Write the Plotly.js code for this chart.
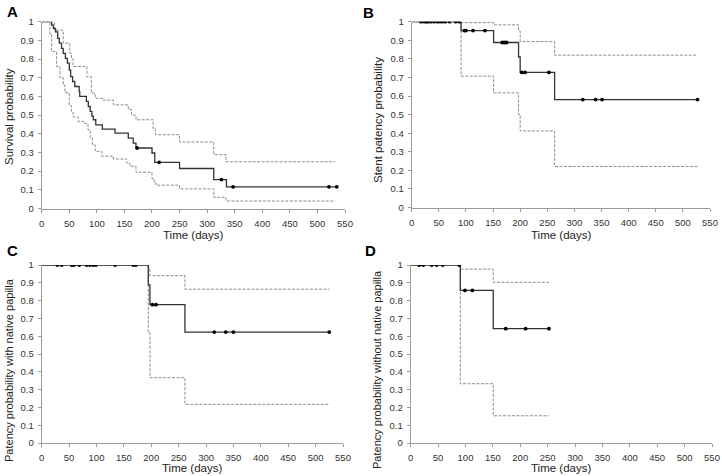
<!DOCTYPE html>
<html>
<head>
<meta charset="utf-8">
<script src="https://cdn.plot.ly/plotly-3.0.1.min.js"></script>
<style>html,body{margin:0;padding:0;background:#fff}#chart{width:722px;height:476px}</style>
</head>
<body>
<div id="chart"></div>
<script>
// ---- Panel A: overall survival ----
const aTime  = [0, 18, 21, 25, 29, 32, 36, 39, 43, 46.5, 50, 52.5, 56, 60, 68, 69, 81, 84.5, 88, 91, 93.6, 98, 110, 133, 157, 166, 171, 200, 205, 250, 312, 335, 535];
const aSurv  = [1, 0.982, 0.964, 0.946, 0.911, 0.885, 0.857, 0.83, 0.804, 0.778, 0.741, 0.706, 0.68, 0.653, 0.626, 0.6, 0.573, 0.546, 0.52, 0.494, 0.475, 0.448, 0.425, 0.404, 0.377, 0.35, 0.324, 0.297, 0.247, 0.214, 0.155, 0.116, 0.116];
const aUpT   = [0, 23, 39, 51, 54, 57, 82, 90, 97, 110, 130, 157, 163, 171, 202, 206, 250, 312, 334, 532];
const aUp    = [1, 0.955, 0.885, 0.83, 0.80, 0.76, 0.705, 0.618, 0.59, 0.58, 0.555, 0.53, 0.50, 0.475, 0.43, 0.395, 0.356, 0.288, 0.25, 0.25];
const aLoT   = [0, 15, 18, 27, 33, 39, 42, 50, 54, 57, 66, 78, 84, 88, 92, 97, 109, 130, 154, 160, 171, 200, 204, 207, 250, 312, 334, 532];
const aLo    = [1, 0.93, 0.84, 0.76, 0.70, 0.66, 0.62, 0.55, 0.52, 0.49, 0.466, 0.455, 0.42, 0.38, 0.34, 0.306, 0.28, 0.265, 0.244, 0.226, 0.194, 0.16, 0.14, 0.125, 0.105, 0.06, 0.04, 0.04];
const aCens  = [173, 213, 326, 347, 521, 535];

// ---- Panel B: stent patency ----
const bTime  = [0, 91, 151, 197, 200, 263.5, 527];
const bSurv  = [1, 0.952, 0.888, 0.81, 0.727, 0.581, 0.581];
const bUp    = [1, 0.995, 0.983, 0.95, 0.893, 0.82, 0.82];
const bLo    = [1, 0.707, 0.617, 0.50, 0.412, 0.221, 0.221];
const bCens  = [17, 23, 27.5, 29.5, 35, 41, 47, 52, 57, 62.5, 70, 81, 87.5, 97, 100, 113, 135, 167, 171, 175, 203, 209, 253, 315.5, 339, 351, 527];

// ---- Panel C: patency with native papilla ----
const cTime  = [0, 194.6, 197.6, 261.5, 525];
const cSurv  = [1, 0.888, 0.777, 0.623, 0.623];
const cUp    = [1, 0.983, 0.94, 0.864, 0.864];
const cLo    = [1, 0.62, 0.367, 0.217, 0.217];
const cCens  = [28.5, 36.5, 54.7, 59, 68.6, 82, 88, 94, 99, 134, 167, 172, 202, 208.6, 315, 336, 350, 525];

// ---- Panel D: patency without native papilla ----
const dTime  = [0, 90.5, 150.7, 252.3];
const dSurv  = [1, 0.857, 0.642, 0.642];
const dUp    = [1, 0.977, 0.903, 0.903];
const dLo    = [1, 0.333, 0.153, 0.153];
const dCens  = [15.7, 23, 38.3, 47.4, 58.4, 88.7, 99, 112.5, 173.5, 209.8, 252.3];

const panelLetters = ['A', 'B', 'C', 'D'];
const yTitles = ['Survival probability', 'Stent patency probability',
                 'Patency probability with native papilla', 'Patency probability without native papilla'];
const xTitle = 'Time (days)';

const FONT = 'Liberation Sans, Arial, sans-serif';
const W = 722, H = 476;
const px = v => v / W;
const py = v => 1 - v / H;

function stepAt(times, surv, t) {
  let v = surv[0];
  for (let i = 0; i < times.length; i++) if (times[i] <= t) v = surv[i];
  return v;
}

const traces = [];
function panel(k, tMain, sMain, tUp, up, tLo, lo, cens) {
  const xa = k === 1 ? 'x' : 'x' + k, ya = k === 1 ? 'y' : 'y' + k;
  const dashStyle = {color: '#8c8c8c', width: 1, dash: '3px,1.5px', shape: 'hv'};
  traces.push({x: tUp, y: up, xaxis: xa, yaxis: ya, mode: 'lines', line: dashStyle, hoverinfo: 'skip'});
  traces.push({x: tLo, y: lo, xaxis: xa, yaxis: ya, mode: 'lines', line: dashStyle, hoverinfo: 'skip'});
  traces.push({x: tMain, y: sMain, xaxis: xa, yaxis: ya, mode: 'lines',
               line: {color: '#333', width: 1.3, shape: 'hv'}});
  traces.push({x: cens, y: cens.map(t => stepAt(tMain, sMain, t)), xaxis: xa, yaxis: ya,
               mode: 'markers', marker: {color: '#000', size: 3.8, symbol: 'circle'}});
}
panel(1, aTime, aSurv, aUpT, aUp, aLoT, aLo, aCens);
panel(2, bTime, bSurv, bTime, bUp, bTime, bLo, bCens);
panel(3, cTime, cSurv, cTime, cUp, cTime, cLo, cCens);
panel(4, dTime, dSurv, dTime, dUp, dTime, dLo, dCens);

function xax(d0, d1, anchor) {
  return {domain: [px(d0), px(d1)], anchor: anchor, range: [0, 550], dtick: 50, tick0: 0,
          showgrid: false, zeroline: false, showline: true, linecolor: '#9a9a9a', linewidth: 1,
          ticks: 'outside', ticklen: 3, tickcolor: '#9a9a9a', ticklabelstandoff: 3,
          tickfont: {family: FONT, size: 9.5, color: '#333'}, fixedrange: true};
}
function yax(d0, d1, anchor) {
  return {domain: [py(d0), py(d1)], anchor: anchor, range: [0, 1], dtick: 0.1, tick0: 0,
          showgrid: false, zeroline: false, showline: true, linecolor: '#9a9a9a', linewidth: 1,
          ticks: 'outside', ticklen: 3, tickcolor: '#9a9a9a', ticklabelstandoff: 2,
          tickfont: {family: FONT, size: 9.5, color: '#333'}, fixedrange: true};
}

const annotations = [];
const letterPos = [[12, 11], [368, 12], [12, 250], [370, 250]];
letterPos.forEach((p, i) => annotations.push({text: '<b>' + panelLetters[i] + '</b>', xref: 'paper', yref: 'paper',
  x: px(p[0]), y: py(p[1]), xanchor: 'center', yanchor: 'middle', showarrow: false,
  font: {family: FONT, size: 15, color: '#000'}}));
const xtPos = [[193, 235], [561, 235], [192, 468], [561, 468]];
xtPos.forEach(p => annotations.push({text: xTitle, xref: 'paper', yref: 'paper',
  x: px(p[0]), y: py(p[1]), xanchor: 'center', yanchor: 'middle', showarrow: false,
  font: {family: FONT, size: 11.5, color: '#222'}}));
const ytPos = [[9, 117], [378, 120], [9, 370], [377, 370]];
const ytSize = [11.5, 11.5, 11, 11];
ytPos.forEach((p, i) => annotations.push({text: yTitles[i], xref: 'paper', yref: 'paper', textangle: -90,
  x: px(p[0]), y: py(p[1]), xanchor: 'center', yanchor: 'middle', showarrow: false,
  font: {family: FONT, size: ytSize[i], color: '#222'}}));

const layout = {
  width: W, height: H, margin: {l: 0, r: 0, t: 0, b: 0},
  paper_bgcolor: '#fff', plot_bgcolor: '#fff', showlegend: false,
  xaxis:  xax(41.7, 345, 'y'),
  yaxis:  yax(208.5, 21.7, 'x'),
  xaxis2: xax(411.7, 710, 'y2'),
  yaxis2: yax(207.5, 21.7, 'x2'),
  xaxis3: xax(41.7, 343, 'y3'),
  yaxis3: yax(443, 265, 'x3'),
  xaxis4: xax(410.7, 712, 'y4'),
  yaxis4: yax(443, 265, 'x4'),
  annotations: annotations
};

Plotly.newPlot('chart', traces, layout, {displayModeBar: false, staticPlot: true});
</script>
</body>
</html>
